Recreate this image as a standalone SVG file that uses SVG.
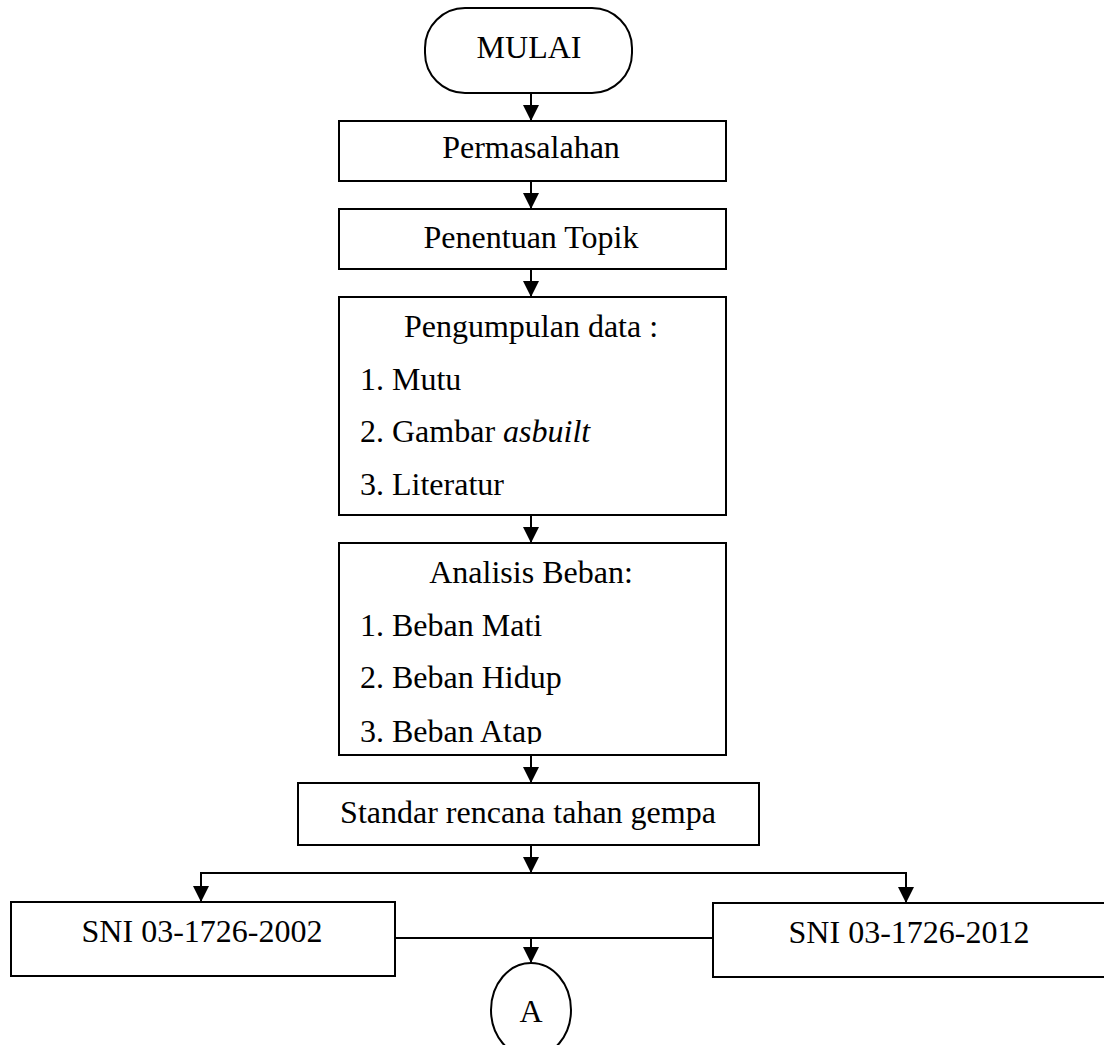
<svg xmlns="http://www.w3.org/2000/svg" width="1104" height="1045" viewBox="0 0 1104 1045">
<style>
.box{fill:#fff;stroke:#000;stroke-width:2}
.t{font-family:"Liberation Serif","Times New Roman",serif;font-size:32px;fill:#000}
.c{text-anchor:middle}
.ln{stroke:#000;stroke-width:2;fill:none}
</style>
<defs>
<marker id="ah" viewBox="0 0 16 16" refX="16" refY="8" markerWidth="16" markerHeight="16" markerUnits="userSpaceOnUse" orient="auto">
<path d="M0,0 L16,8 L0,16 Z" fill="#000"/>
</marker>
<clipPath id="clipAtap"><rect x="330" y="700" width="400" height="44"/></clipPath>
</defs>
<rect width="1104" height="1045" fill="#fff"/>
<g id="connectors">
<line class="ln" x1="531" y1="93" x2="531" y2="121" marker-end="url(#ah)"/>
<line class="ln" x1="531" y1="181" x2="531" y2="209" marker-end="url(#ah)"/>
<line class="ln" x1="531" y1="269" x2="531" y2="297" marker-end="url(#ah)"/>
<line class="ln" x1="531" y1="515" x2="531" y2="543" marker-end="url(#ah)"/>
<line class="ln" x1="531" y1="755" x2="531" y2="783" marker-end="url(#ah)"/>
<line class="ln" x1="531" y1="845" x2="531" y2="873" marker-end="url(#ah)"/>
<line class="ln" x1="201" y1="873" x2="906" y2="873"/>
<line class="ln" x1="201" y1="872" x2="201" y2="902" marker-end="url(#ah)"/>
<line class="ln" x1="906" y1="872" x2="906" y2="903" marker-end="url(#ah)"/>
<line class="ln" x1="395" y1="938" x2="713" y2="938"/>
<line class="ln" x1="531" y1="938" x2="531" y2="963" marker-end="url(#ah)"/>
</g>
<g id="mulai">
<rect class="box" x="425" y="8" width="207" height="85" rx="40" ry="40"/>
<text class="t c" x="529" y="58">MULAI</text>
</g>
<g id="permasalahan">
<rect class="box" x="339" y="121" width="387" height="60"/>
<text class="t c" x="531" y="158">Permasalahan</text>
</g>
<g id="penentuan">
<rect class="box" x="339" y="209" width="387" height="60"/>
<text class="t c" x="531" y="248">Penentuan Topik</text>
</g>
<g id="pengumpulan">
<rect class="box" x="339" y="297" width="387" height="218"/>
<text class="t c" x="531" y="337">Pengumpulan data :</text>
<text class="t" x="360" y="390">1. Mutu</text>
<text class="t" x="360" y="442">2. Gambar <tspan font-style="italic">asbuilt</tspan></text>
<text class="t" x="360" y="495">3. Literatur</text>
</g>
<g id="analisis">
<rect class="box" x="339" y="543" width="387" height="212"/>
<text class="t c" x="531" y="583">Analisis Beban:</text>
<text class="t" x="360" y="636">1. Beban Mati</text>
<text class="t" x="360" y="688">2. Beban Hidup</text>
<text class="t" x="360" y="742" clip-path="url(#clipAtap)">3. Beban Atap</text>
</g>
<g id="standar">
<rect class="box" x="298" y="783" width="461" height="62"/>
<text class="t c" x="528" y="823">Standar rencana tahan gempa</text>
</g>
<g id="sni2002">
<rect class="box" x="11" y="902" width="384" height="74"/>
<text class="t c" x="202" y="942">SNI 03-1726-2002</text>
</g>
<g id="sni2012">
<rect class="box" x="713" y="903" width="400" height="74"/>
<text class="t c" x="909" y="943">SNI 03-1726-2012</text>
</g>
<g id="connectorA">
<ellipse class="box" cx="531" cy="1010" rx="40" ry="47"/>
<text class="t" x="531" y="1022" text-anchor="middle" font-size="38">A</text>
</g>
</svg>
